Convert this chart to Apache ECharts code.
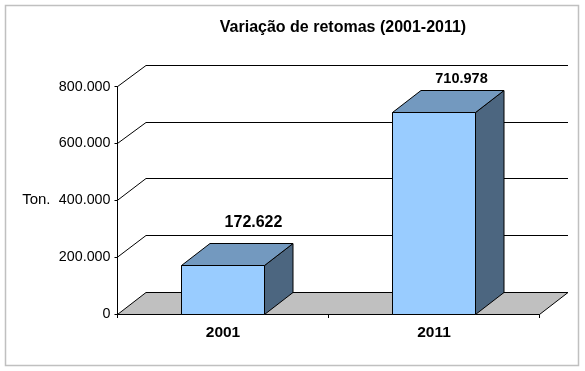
<!DOCTYPE html>
<html><head><meta charset="utf-8">
<style>html,body{margin:0;padding:0;background:#fff}#c{width:585px;height:371px}</style>
<script src="https://cdn.jsdelivr.net/npm/echarts@6/dist/echarts.min.js"></script>
</head><body><div id="c"></div>
<script>
const categories = ['2001', '2011'];
const values = [172622, 710978];
const yTicks = [0, 200000, 400000, 600000, 800000];
const titleText = 'Variação de retomas (2001-2011)';
const yName = 'Ton.';

const DX = 28.5, DY = -21.9;
const FONT = '"Liberation Sans", Arial, sans-serif';
const fmt = v => String(v).replace(/\B(?=(\d{3})+$)/g, '.');
const cy = v => Math.round(v) + 0.5;
const cx = v => Math.floor(v) + 0.5;
const chart = echarts.init(document.getElementById('c'), null, {renderer: 'canvas'});
const line = {stroke: '#000', lineWidth: 1, fill: null};

chart.setOption({
  animation: false,
  backgroundColor: '#fff',
  graphic: [{type: 'rect', z: -10, shape: {x: 5.5, y: 5.5, width: 573, height: 360},
    style: {fill: '#fff', stroke: '#c0c0c0', lineWidth: 1.5}}],
  title: {text: titleText, left: 338, top: 15, textAlign: 'center',
    textStyle: {fontFamily: FONT, fontSize: 16, fontWeight: 'bold', color: '#000'}},
  grid: {left: 117.5, right: 45.5, top: 86.6, bottom: 57, containLabel: false},
  xAxis: {type: 'category', data: categories, boundaryGap: true,
    axisLine: {lineStyle: {color: '#000', width: 1}},
    axisTick: {show: true, length: 4, lineStyle: {color: '#000', width: 1}},
    axisLabel: {fontFamily: FONT, fontSize: 15.5, fontWeight: 'bold', color: '#000', margin: 11},
    splitLine: {show: false}},
  yAxis: {type: 'value', min: 0, max: 800000, interval: 200000,
    name: yName, nameLocation: 'middle', nameRotate: 0, nameGap: 67,
    nameTextStyle: {fontFamily: FONT, fontSize: 15, color: '#000', padding: [6, 0, 0, 0]},
    axisLine: {show: true, lineStyle: {color: '#000', width: 1}},
    axisTick: {show: true, length: 3, lineStyle: {color: '#000', width: 1}},
    axisLabel: {fontFamily: FONT, fontSize: 14.3, color: '#000', margin: 7, padding: [5, 0, 0, 0], formatter: fmt},
    splitLine: {show: false}},
  series: [
    {type: 'custom', coordinateSystem: 'cartesian2d', z: 1, silent: true, clip: false,
     data: [[0, 0]], encode: {x: 0, y: 1},
     renderItem(params, api) {
       const c = params.coordSys, y = cy(api.coord([0, 0])[1]), b = cy(api.coord([0, 0])[1] + DY), r = c.x + c.width;
       return {type: 'polygon', shape: {points: [[c.x, y], [c.x + DX, b], [r + DX, b], [r, y]]},
         style: {fill: '#c0c0c0', stroke: '#000', lineWidth: 1}};
     }},
    {type: 'custom', coordinateSystem: 'cartesian2d', z: 2, silent: true, clip: false,
     data: yTicks.slice(1).map(v => [0, v]), encode: {x: 0, y: 1},
     renderItem(params, api) {
       const c = params.coordSys, y = api.coord([0, api.value(1)])[1], r = c.x + c.width, b = cy(y + DY);
       return {type: 'polyline', shape: {points: [[c.x, y], [c.x + DX, b], [r + DX, b]]}, style: line};
     }},
    {type: 'custom', coordinateSystem: 'cartesian2d', z: 3, silent: true, clip: false,
     data: values.map((v, i) => [i, v]), encode: {x: 0, y: 1},
     renderItem(params, api) {
       const i = api.value(0), top = api.coord([i, api.value(1)]), base = api.coord([i, 0]);
       const w = api.size([1, 0])[0] * 0.398, l = cx(top[0] - w / 2), r = cx(top[0] + w / 2);
       const t = cy(top[1]), b = cy(base[1]), t2 = cy(top[1] + DY), b2 = cy(base[1] + DY);
       const s = (fill) => ({fill, stroke: '#000', lineWidth: 1});
       const labelY = top[1] + DY - (i === 0 ? 20 : 11);
       const labelX = top[0] + DX + (i === 0 ? 2 : -1);
       const size = i === 0 ? 16 : 14.5;
       return {type: 'group', children: [
         {type: 'polygon', shape: {points: [[r, t], [r + DX, t2], [r + DX, b2], [r, b]]}, style: s('#4c6680')},
         {type: 'polygon', shape: {points: [[l, t], [l + DX, t2], [r + DX, t2], [r, t]]}, style: s('#7399bf')},
         {type: 'rect', shape: {x: l, y: t, width: r - l, height: b - t}, style: s('#99ccff')},
         {type: 'text', style: {x: labelX, y: labelY, text: fmt(api.value(1)), align: 'center', verticalAlign: 'middle',
           font: 'bold ' + size + 'px ' + FONT, fill: '#000'}}
       ]};
     }}
  ]
});
</script></body></html>
